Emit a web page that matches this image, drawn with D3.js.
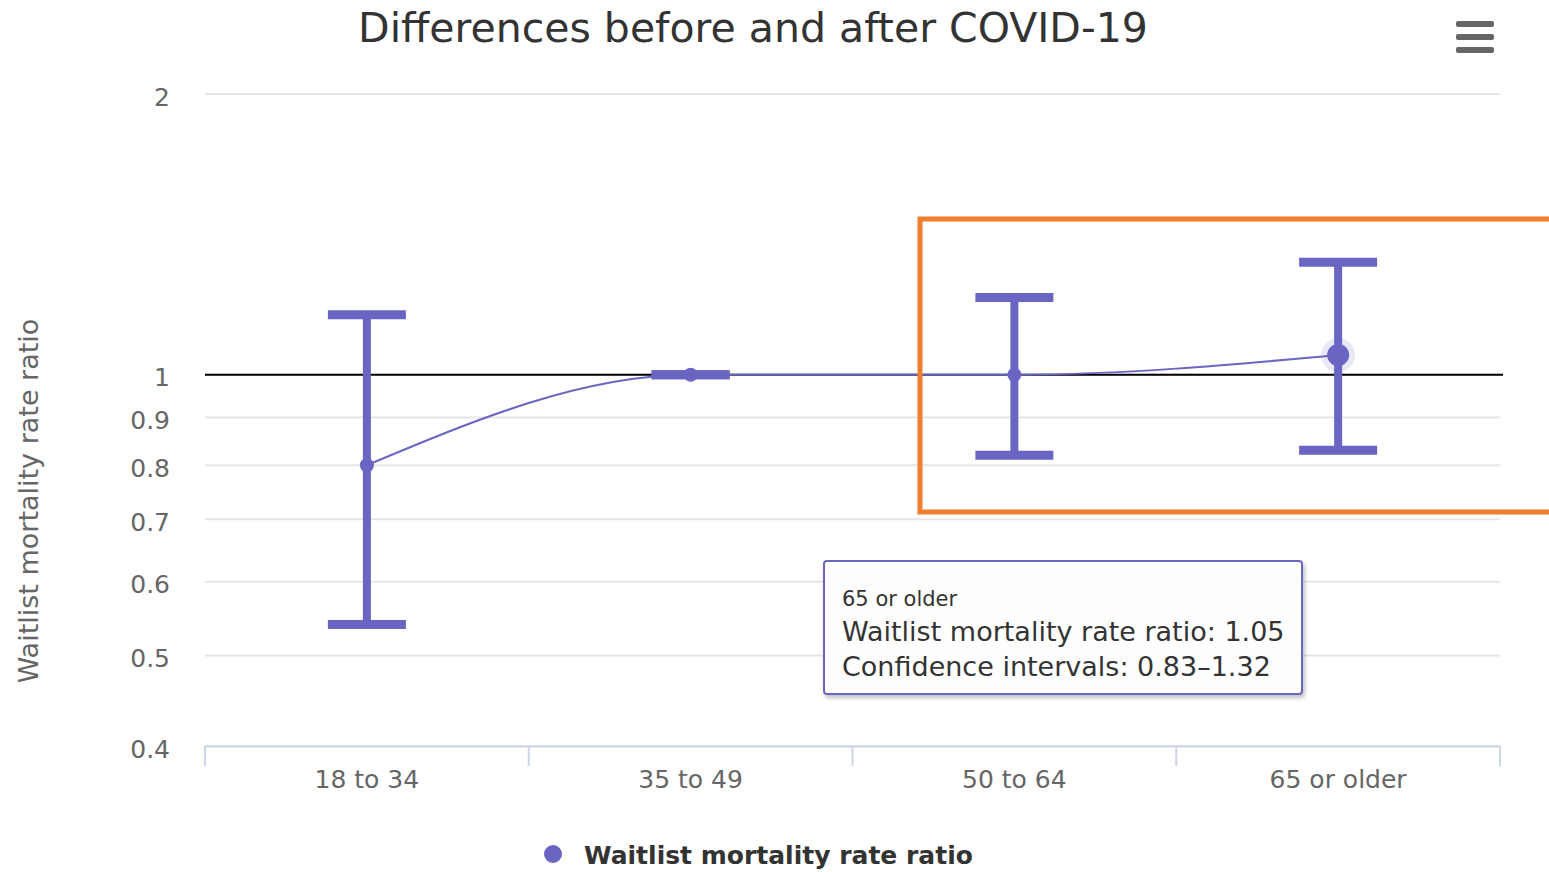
<!DOCTYPE html>
<html>
<head>
<meta charset="utf-8">
<script src="https://cdn.jsdelivr.net/npm/d3@7"></script>
<style>
  body { margin: 0; background: #fff; }
  svg { font-family: "DejaVu Sans", "Lucida Grande", sans-serif; }
</style>
</head>
<body>
<div id="the_chart"></div>
<script>
// chart values
var categories = ["18 to 34", "35 to 49", "50 to 64", "65 or older"];
var ratios = [0.80, 1.00, 1.00, 1.05];
var ciLow = [0.54, 1.00, 0.82, 0.83];
var ciHigh = [1.16, 1.00, 1.21, 1.32];
var yTicks = [0.4, 0.5, 0.6, 0.7, 0.8, 0.9, 1, 2];
var hovered = 3; // point with tooltip

var w = 1549, h = 872;
var plotLeft = 205, plotRight = 1500, plotTop = 94, plotBottom = 746;
var color = "#6a65c2";

var svg = d3.select("#the_chart").append("svg")
    .attr("width", w)
    .attr("height", h);

var defs = svg.append("defs");
var f = defs.append("filter").attr("id", "shadow").attr("x", "-10%").attr("y", "-10%").attr("width", "130%").attr("height", "140%");
f.append("feDropShadow").attr("dx", 2).attr("dy", 3).attr("stdDeviation", 2).attr("flood-color", "#000").attr("flood-opacity", 0.25);

var xscale = d3.scaleBand()
    .domain(categories)
    .range([plotLeft, plotRight]);

var yscale = d3.scaleLog()
    .domain([0.4, 2])
    .range([plotBottom, plotTop]);

function cx(i) { return xscale(categories[i]) + xscale.bandwidth() / 2; }

// grid lines
svg.append("g").selectAll("line")
    .data(yTicks)
    .enter().append("line")
    .attr("x1", plotLeft).attr("x2", plotRight)
    .attr("y1", function(d) { return yscale(d); })
    .attr("y2", function(d) { return yscale(d); })
    .attr("stroke", "#e6e6e6")
    .attr("stroke-width", 2);

// y axis (labels only)
var yaxis = d3.axisLeft(yscale)
    .tickValues(yTicks)
    .tickFormat(function(d) { return String(d); })
    .tickSize(0)
    .tickPadding(0);
var gy = svg.append("g")
    .attr("transform", "translate(170,3)")
    .call(yaxis)
    .attr("font-family", null);
gy.select(".domain").remove();
gy.selectAll("text").attr("font-size", 25).attr("fill", "#666");

// x axis
var xaxis = d3.axisBottom(xscale).tickSize(0).tickPadding(24);
var gx = svg.append("g")
    .attr("transform", "translate(0," + plotBottom + ")")
    .call(xaxis)
    .attr("font-family", null);
gx.select(".domain").attr("stroke", "#ccd6eb").attr("stroke-width", 2);
gx.selectAll("text").attr("font-size", 25).attr("fill", "#666");
gx.selectAll(".sep")
    .data(d3.range(categories.length + 1))
    .enter().append("line")
    .attr("x1", function(i) { return plotLeft + i * xscale.bandwidth(); })
    .attr("x2", function(i) { return plotLeft + i * xscale.bandwidth(); })
    .attr("y1", 0).attr("y2", 20)
    .attr("stroke", "#ccd6eb").attr("stroke-width", 2);

// y axis title
svg.append("text")
    .attr("transform", "translate(38,501) rotate(-90)")
    .attr("text-anchor", "middle")
    .attr("font-size", 27)
    .attr("fill", "#666")
    .text("Waitlist mortality rate ratio");

// reference line at 1
svg.append("line")
    .attr("x1", plotLeft).attr("x2", 1503)
    .attr("y1", yscale(1)).attr("y2", yscale(1))
    .attr("stroke", "#000")
    .attr("stroke-width", 2);

// error bars
var eb = svg.append("g").selectAll("g")
    .data(categories)
    .enter().append("g");
eb.append("line")
    .attr("x1", function(d, i) { return cx(i); })
    .attr("x2", function(d, i) { return cx(i); })
    .attr("y1", function(d, i) { return yscale(ciLow[i]); })
    .attr("y2", function(d, i) { return yscale(ciHigh[i]); })
    .attr("stroke", color).attr("stroke-width", 8);
eb.append("line")
    .attr("x1", function(d, i) { return cx(i) - 39; })
    .attr("x2", function(d, i) { return cx(i) + 39; })
    .attr("y1", function(d, i) { return yscale(ciHigh[i]); })
    .attr("y2", function(d, i) { return yscale(ciHigh[i]); })
    .attr("stroke", color).attr("stroke-width", 9);
eb.append("line")
    .attr("x1", function(d, i) { return cx(i) - 39; })
    .attr("x2", function(d, i) { return cx(i) + 39; })
    .attr("y1", function(d, i) { return yscale(ciLow[i]); })
    .attr("y2", function(d, i) { return yscale(ciLow[i]); })
    .attr("stroke", color).attr("stroke-width", 9);

// spline through the ratios
var line = d3.line()
    .x(function(d, i) { return cx(i); })
    .y(function(d) { return yscale(d); })
    .curve(d3.curveMonotoneX);
svg.append("path")
    .datum(ratios)
    .attr("d", line)
    .attr("fill", "none")
    .attr("stroke", color)
    .attr("stroke-width", 2);

// halo on hovered point
svg.append("circle")
    .attr("cx", cx(hovered)).attr("cy", yscale(ratios[hovered]))
    .attr("r", 17)
    .attr("fill", color).attr("fill-opacity", 0.15);

// markers
svg.append("g").selectAll("circle")
    .data(ratios)
    .enter().append("circle")
    .attr("cx", function(d, i) { return cx(i); })
    .attr("cy", function(d) { return yscale(d); })
    .attr("r", function(d, i) { return i == hovered ? 11 : 7; })
    .attr("fill", color);

// title
svg.append("text")
    .attr("x", 753).attr("y", 42)
    .attr("text-anchor", "middle")
    .attr("font-size", 41)
    .attr("fill", "#333")
    .text("Differences before and after COVID-19");

// menu button
svg.append("g").selectAll("rect")
    .data([0, 1, 2])
    .enter().append("rect")
    .attr("x", 1456).attr("width", 38)
    .attr("y", function(d) { return 21 + d * 13; })
    .attr("height", 6).attr("rx", 2)
    .attr("fill", "#666");

// legend
svg.append("circle")
    .attr("cx", 553).attr("cy", 854).attr("r", 9)
    .attr("fill", color);
svg.append("text")
    .attr("x", 584).attr("y", 864)
    .attr("font-size", 25)
    .attr("font-weight", "bold")
    .attr("fill", "#333")
    .text("Waitlist mortality rate ratio");

// tooltip
var tt = svg.append("g").attr("transform", "translate(824,561)");
tt.append("rect")
    .attr("width", 478).attr("height", 133)
    .attr("rx", 3)
    .attr("fill", "#fff").attr("fill-opacity", 0.95)
    .attr("stroke", color).attr("stroke-width", 2)
    .attr("filter", "url(#shadow)");
tt.append("text")
    .attr("x", 18).attr("y", 45)
    .attr("font-size", 21).attr("fill", "#333")
    .text(categories[hovered]);
tt.append("text")
    .attr("x", 18).attr("y", 80)
    .attr("font-size", 27).attr("fill", "#333")
    .text("Waitlist mortality rate ratio: " + ratios[hovered].toFixed(2));
tt.append("text")
    .attr("x", 18).attr("y", 115)
    .attr("font-size", 27).attr("fill", "#333")
    .text("Confidence intervals: " + ciLow[hovered].toFixed(2) + "–" + ciHigh[hovered].toFixed(2));

// orange highlight box
svg.append("rect")
    .attr("x", 920).attr("y", 219)
    .attr("width", 700).attr("height", 293)
    .attr("fill", "none")
    .attr("stroke", "#ef7f2d")
    .attr("stroke-width", 5);
</script>
</body>
</html>
